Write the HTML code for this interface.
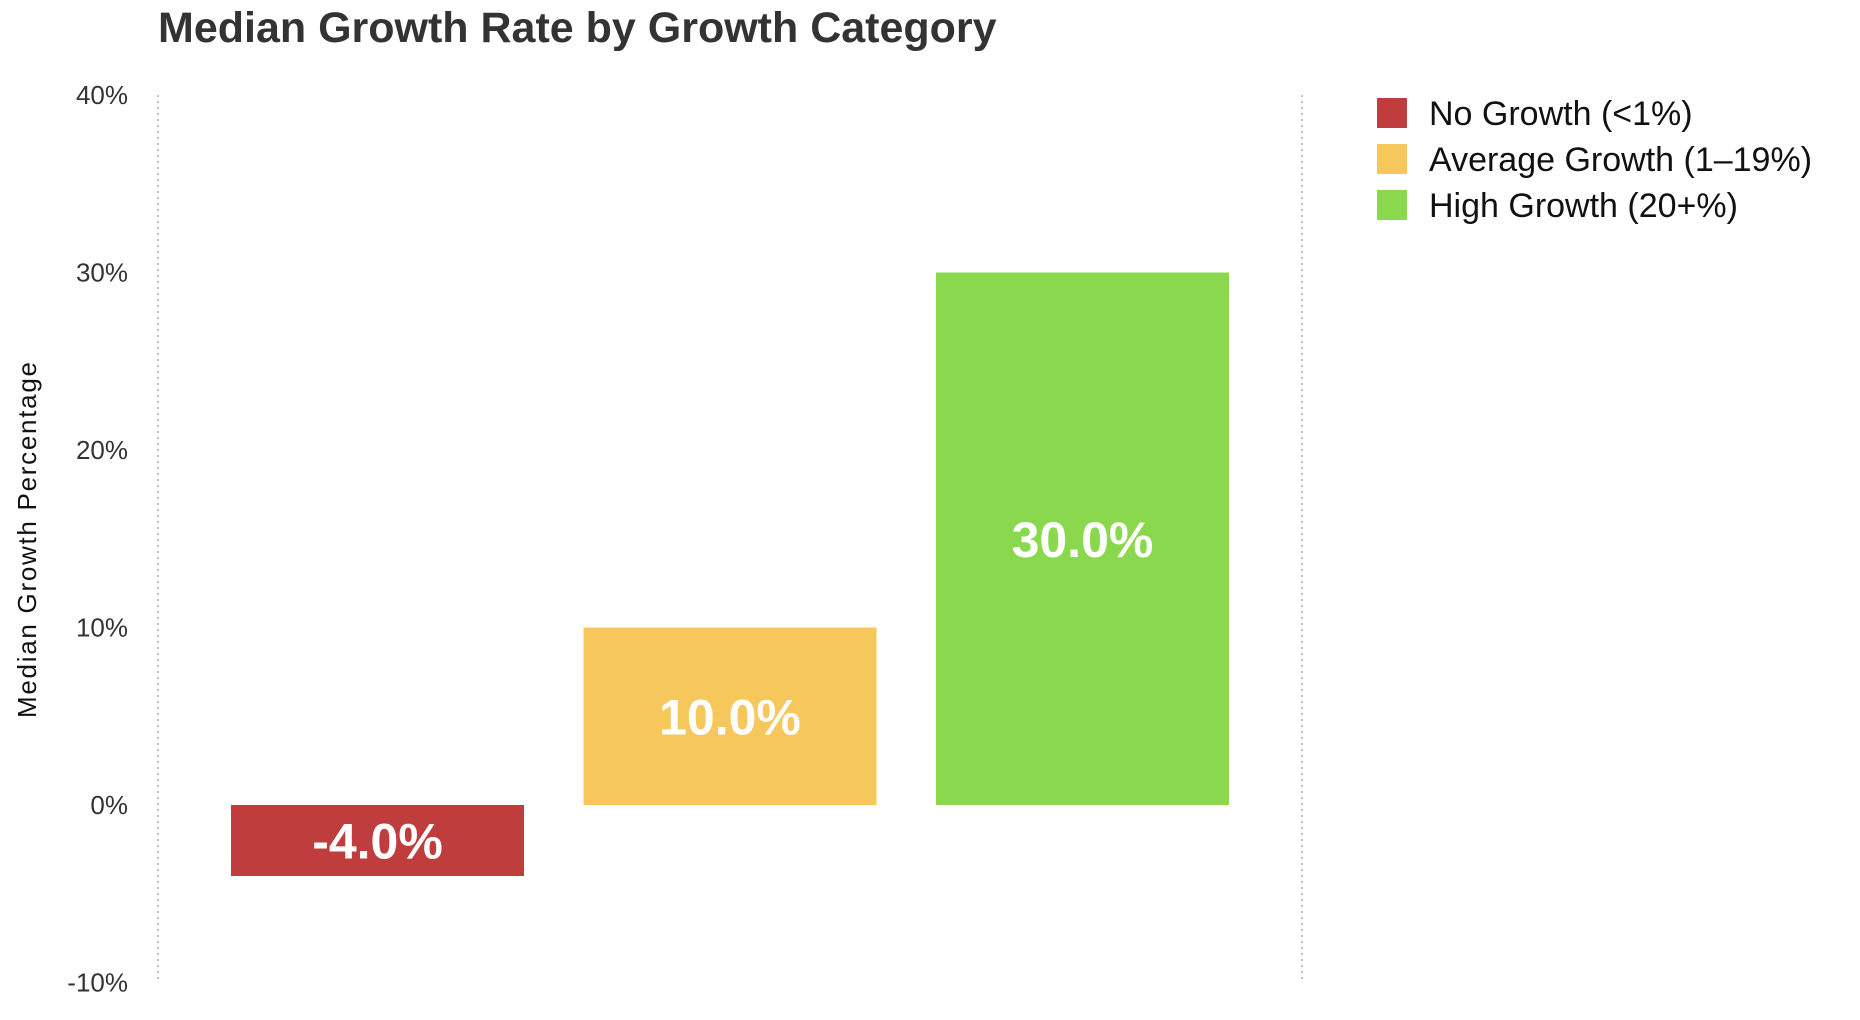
<!DOCTYPE html>
<html><head><meta charset="utf-8"><style>
html,body{margin:0;padding:0;background:#fff;width:1860px;height:1020px;overflow:hidden}
text{font-family:"Liberation Sans",sans-serif}
</style></head><body>
<svg id="chart" width="1860" height="1020" viewBox="0 0 1860 1020" xmlns="http://www.w3.org/2000/svg">
<text x="158" y="42" font-size="43" font-weight="bold" fill="#333">Median Growth Rate by Growth Category</text>
<text transform="translate(36,540) rotate(-90)" text-anchor="middle" font-size="26" fill="#111" textLength="356">Median Growth Percentage</text>
<line x1="158" y1="95" x2="158" y2="982" stroke="#aaa" stroke-width="1.5" stroke-dasharray="2,4"/>
<line x1="1302" y1="95" x2="1302" y2="982" stroke="#aaa" stroke-width="1.5" stroke-dasharray="2,4"/>
<g id="ticks"></g>
<g id="bars"></g>
<g id="legend"></g>
</svg>
<script>
const categories = ["No Growth (<1%)", "Average Growth (1–19%)", "High Growth (20+%)"];
const values = [-4.0, 10.0, 30.0];
const colors = ["#bf3d3d", "#f6c75a", "#8ad84e"];
const tickValues = [-10, 0, 10, 20, 30, 40];
const tickLabels = ["-10%", "0%", "10%", "20%", "30%", "40%"];

const NS = "http://www.w3.org/2000/svg";
const yMin = -10, yMax = 40, yTop = 95, yBot = 982.5;
function y(v){ return yBot - (v - yMin) / (yMax - yMin) * (yBot - yTop); }
const barX0 = 231, barStep = 352.5, barW = 293;
function x(i){ return barX0 + i * barStep; }

const ticks = document.getElementById("ticks");
tickValues.forEach((t, i) => {
  const tx = document.createElementNS(NS, "text");
  
  
  tx.setAttribute("x", 128);
  tx.setAttribute("y", y(t) + 9);
  tx.setAttribute("text-anchor", "end");
  tx.setAttribute("font-size", "26");
  tx.setAttribute("fill", "#333");
  tx.textContent = tickLabels[i];
  ticks.appendChild(tx);
});

const bars = document.getElementById("bars");
values.forEach((v, i) => {
  const r = document.createElementNS(NS, "rect");
  
  
  const top = Math.min(y(v), y(0)), bot = Math.max(y(v), y(0));
  r.setAttribute("x", x(i));
  r.setAttribute("y", top);
  r.setAttribute("width", barW);
  r.setAttribute("height", bot - top);
  r.setAttribute("fill", colors[i]);
  bars.appendChild(r);
  const t = document.createElementNS(NS, "text");
  
  
  t.setAttribute("x", x(i) + barW / 2);
  t.setAttribute("y", (top + bot) / 2 + 18);
  t.setAttribute("text-anchor", "middle");
  t.setAttribute("font-size", "50");
  t.setAttribute("font-weight", "bold");
  t.setAttribute("fill", "#fff");
  t.textContent = v.toFixed(1) + "%";
  bars.appendChild(t);
});

const legend = document.getElementById("legend");
categories.forEach((c, i) => {
  const cy = 113 + i * 46;
  const s = document.createElementNS(NS, "rect");
  
  
  s.setAttribute("x", 1377);
  s.setAttribute("y", cy - 15);
  s.setAttribute("width", 30);
  s.setAttribute("height", 30);
  s.setAttribute("fill", colors[i]);
  legend.appendChild(s);
  const t = document.createElementNS(NS, "text");
  
  
  t.setAttribute("x", 1429);
  t.setAttribute("y", cy + 12);
  t.setAttribute("font-size", "34");
  t.setAttribute("fill", "#111");
  t.textContent = c;
  legend.appendChild(t);
});
</script>
</body></html>
